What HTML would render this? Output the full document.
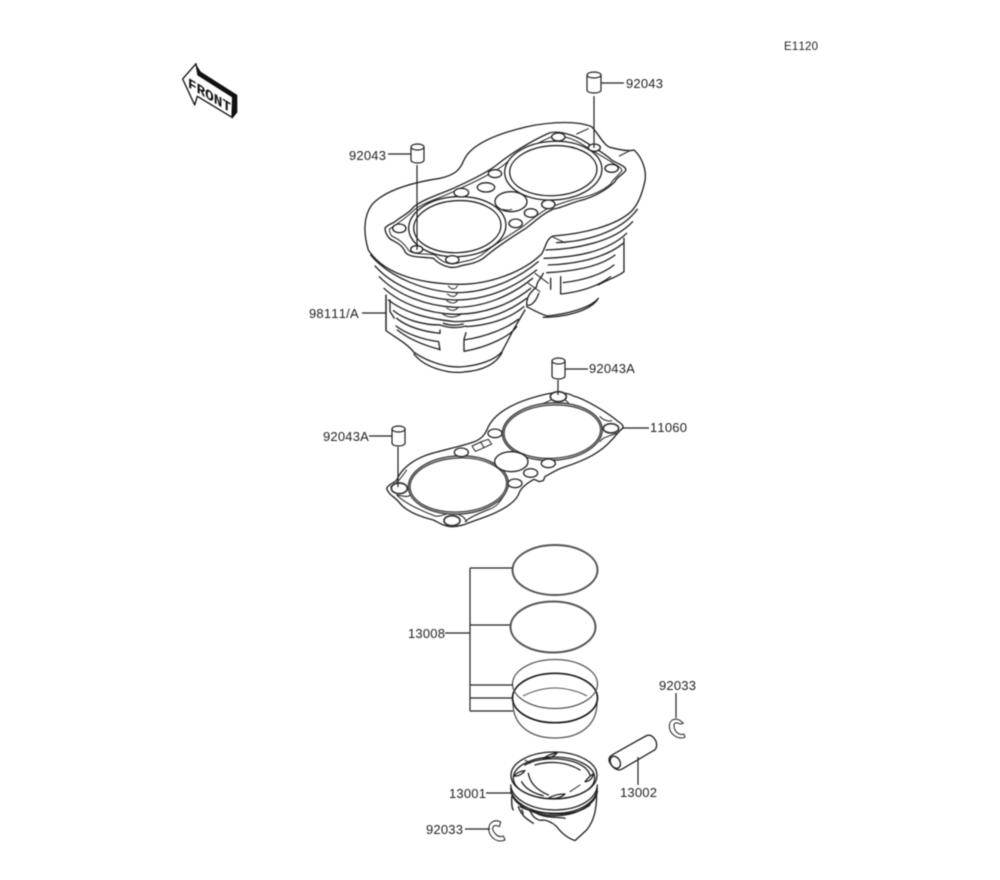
<!DOCTYPE html>
<html><head><meta charset="utf-8"><style>
html,body{margin:0;padding:0;background:#fff}
svg{display:block;filter:blur(.45px)}
text{font-family:"Liberation Sans",sans-serif;font-size:13px;fill:#222;letter-spacing:.2px;font-kerning:none}
.l{stroke:#222;stroke-width:1.2;fill:none}
.z{fill:none;stroke:#222;stroke-width:4;stroke-linecap:round;stroke-linejoin:round}
.t{stroke-width:3}
.f{fill:#fff}
</style></head><body>
<svg width="1000" height="880" viewBox="0 0 1000 880" xmlns="http://www.w3.org/2000/svg">
<rect width="1000" height="880" fill="#fff"/>
<text x="784" y="50" style="font-size:11.5px">E1120</text>

<!-- FRONT arrow -->
<g transform="translate(170,55) scale(.3333)">
<path d="M76,24 L92,50 L202,120 L202,172 L186,192 L186,135 L80,62Z" fill="#111"/>
<path d="M38,72 L78,26 L84,60 L188,126 L186,187 L82,124 L74,150Z" fill="#fff" stroke="#111" stroke-width="4" stroke-linejoin="round"/>
<text transform="matrix(1,.6,0,1,54,96)" style="font-family:'Liberation Mono',monospace;font-weight:bold;font-size:43px;fill:#111;letter-spacing:0">FRONT</text>
</g>

<!-- Cylinder -->
<g transform="translate(340,110) scale(.3333)">
<path class="z" d="M852,385 L852,485 C835,500 800,510 775,525 M775,565 C750,595 680,612 622,618 C600,612 580,600 560,590"/>
<path class="z" d="M610,622 C670,622 745,605 772,570"/>
<path class="z" d="M650,398 C730,395 840,370 892,298"/>
<path class="z" d="M618,420 C700,418 820,398 878,335"/>
<path class="z" d="M612,445 C700,442 800,428 860,370"/>
<path class="z" d="M625,465 C700,462 790,448 850,400"/>
<path class="z" d="M620,488 C700,484 780,470 825,435"/>
<path class="z" d="M670,518 C720,512 780,498 822,465"/>
<path class="z" d="M665,552 C715,546 770,532 812,500"/>
<path class="z" d="M662,500 L662,552 M632,505 L632,538 M610,490 C600,510 590,515 590,530 C575,545 560,555 560,585 C575,590 590,570 596,550"/>
<path class="z t" d="M585,490 L625,520 M565,520 L600,545"/>
<path class="z" d="M600,432 C560,440 510,458 470,500"/>
<path class="z t" d="M490,470 L515,462 M640,382 L675,398"/>
<path class="z f" d="M85,420 C70,370 70,320 95,285 C130,245 200,220 300,205 C345,195 360,180 372,150 C390,110 450,80 530,58 C600,38 700,28 755,50 C775,70 790,105 810,112 C840,120 865,125 882,120 C905,140 925,185 912,225 C905,255 895,280 878,300 C830,350 720,372 640,378 C620,385 620,405 605,432 C550,485 450,525 350,523 C230,520 130,490 85,420Z"/>
<path class="z t" d="M710,72 L745,56 M838,138 L870,122"/>
<path class="z" d="M92,435 C150,505 260,545 350,548 C440,548 530,510 595,455"/>
<path class="z" d="M105,468 C160,530 260,568 345,570 C440,570 520,535 590,480"/>
<path class="z" d="M118,500 C170,555 260,588 345,592 C430,592 510,560 578,505"/>
<path class="z" d="M132,535 C180,580 260,610 345,613 C430,613 510,585 572,535"/>
<path class="z" d="M145,570 C190,605 250,625 345,635 C430,635 500,610 560,565"/>
<path class="z" d="M160,602 C195,630 250,645 300,645 M380,650 C450,645 510,625 552,590"/>
<path class="z" d="M300,645 C330,655 350,655 378,648 M310,640 C330,647 350,647 370,642"/>
<path class="z" d="M168,648 C200,672 250,690 296,695 L300,720 M172,660 C210,690 260,708 298,718"/>
<path class="z" d="M170,625 C200,650 250,665 300,670 L300,660 M372,690 L372,724 M372,690 C440,680 500,655 535,628 M372,724 C440,712 510,680 530,650 M378,668 L372,688"/>
<path class="z" d="M138,555 L138,662 C170,685 200,700 222,727 C270,760 330,775 372,770 C420,765 465,750 486,725 L520,660 L555,600"/>
<path class="z" d="M222,732 C255,775 330,792 372,786 C420,782 465,768 486,728"/>
<path class="z" d="M150,570 L150,605 C155,612 160,620 163,625"/>
<path class="z t" d="M325,528 C335,540 345,540 352,528 M322,552 C335,562 345,562 352,550 M320,572 C335,582 345,582 353,571 M320,594 C335,604 345,604 355,592 M308,612 C325,624 345,624 365,612"/>
<path class="z f" d="M135,355 C140,345 155,342 165,335 C185,318 205,312 222,290 C250,268 300,252 340,235 C395,210 445,185 470,165 C510,132 570,95 625,70 C650,60 700,72 740,98 C770,118 800,135 815,150 C830,160 858,168 858,180 C850,195 830,200 825,215 C800,240 760,262 720,272 C690,280 660,295 640,297 C600,315 575,345 550,360 C510,385 465,415 430,445 C400,465 375,462 355,470 C330,478 300,465 280,445 C255,440 205,445 195,425 C185,400 160,395 148,385 C140,375 135,365 135,355Z"/>
<path class="z t" d="M148,358 C165,345 195,328 225,298 C255,275 310,262 350,240 C400,218 455,190 485,170 C520,140 575,108 630,82 C660,72 700,85 735,108 C765,128 800,145 820,160 C835,168 846,175 846,182 C838,195 820,205 812,222 C785,245 750,258 715,265 C680,272 655,285 632,290 C595,310 568,335 545,352 C505,378 455,408 425,435 C395,455 370,452 352,460 C325,466 305,455 285,435 C260,430 215,435 205,420 C190,395 170,385 155,378 C150,370 148,365 148,358Z"/>
<ellipse class="z f" cx="352" cy="350" rx="146" ry="90" transform="rotate(-3 352 350)"/>
<ellipse class="z" cx="352" cy="350" rx="131" ry="78" transform="rotate(-3 352 350)"/>
<ellipse class="z f" cx="640" cy="182" rx="146" ry="88" transform="rotate(-3 640 182)"/>
<ellipse class="z" cx="640" cy="182" rx="131" ry="75" transform="rotate(-3 640 182)"/>
<g class="z f">
<ellipse cx="178" cy="355" rx="20" ry="13"/><ellipse cx="230" cy="418" rx="18" ry="11"/><ellipse cx="337" cy="449" rx="20" ry="12"/>
<ellipse cx="527" cy="340" rx="20" ry="13"/><ellipse cx="573" cy="309" rx="20" ry="13"/><ellipse cx="625" cy="283" rx="20" ry="13"/>
<ellipse cx="513" cy="275" rx="48" ry="30"/><ellipse cx="465" cy="191" rx="20" ry="12"/><ellipse cx="438" cy="232" rx="26" ry="14"/>
<ellipse cx="364" cy="248" rx="22" ry="13"/><ellipse cx="655" cy="81" rx="20" ry="12"/><ellipse cx="763" cy="113" rx="18" ry="11"/><ellipse cx="815" cy="175" rx="20" ry="12"/>
</g>
<path class="z t" d="M490,298 C500,302 510,300 515,298"/>
</g>

<!-- Head gasket -->
<g transform="translate(370,380) scale(.3333)">
<path class="z f" d="M50,325 C55,312 72,310 80,300 C95,265 130,240 170,225 C210,212 270,200 305,188 C335,178 345,165 355,140 C375,100 430,65 530,42 C560,35 595,38 610,48 C640,55 710,95 745,125 C755,130 762,138 758,145 C745,155 735,170 725,180 C695,215 650,240 580,262 C560,268 535,285 525,290 L520,302 L508,305 L492,298 C470,310 450,325 445,345 C430,375 380,400 320,420 C295,428 275,440 245,440 C225,440 210,430 190,420 C150,410 110,395 90,370 C75,350 55,345 50,325Z"/>
<path class="z t" d="M62,320 C75,315 90,300 110,270 M120,345 C115,355 85,345 80,345 C100,365 135,385 195,408 C210,412 225,400 245,400 C265,402 280,405 290,425 M285,425 C300,410 340,395 365,385 C385,378 405,345 415,320 M600,75 C590,60 580,55 565,55 C545,55 535,65 520,70 M690,110 C700,120 712,125 725,122 M690,185 C700,170 720,168 740,160"/>
<ellipse class="z f" cx="265" cy="315" rx="150" ry="87" transform="rotate(-3 265 315)" style="stroke:#444;stroke-width:4.5"/>
<ellipse class="z" cx="265" cy="315" rx="145" ry="81" transform="rotate(-3 265 315)" style="stroke:#444"/>
<ellipse class="z f" cx="547" cy="155" rx="150" ry="86" transform="rotate(-3 547 155)" style="stroke:#444;stroke-width:4.5"/>
<ellipse class="z" cx="547" cy="155" rx="145" ry="80" transform="rotate(-3 547 155)" style="stroke:#444"/>
<g class="z f">
<ellipse cx="88" cy="325" rx="24" ry="16" style="stroke:#333;stroke-width:5"/><ellipse cx="246" cy="422" rx="24" ry="15" style="stroke:#333;stroke-width:5"/>
<ellipse cx="565" cy="50" rx="24" ry="15" style="stroke:#333;stroke-width:5"/><ellipse cx="723" cy="145" rx="23" ry="14" style="stroke:#333;stroke-width:5"/>
<ellipse cx="435" cy="310" rx="21" ry="13"/><ellipse cx="482" cy="279" rx="21" ry="13"/><ellipse cx="535" cy="250" rx="21" ry="13"/>
<ellipse cx="424" cy="245" rx="50" ry="30"/><ellipse cx="274" cy="217" rx="21" ry="13"/><ellipse cx="375" cy="160" rx="21" ry="13"/>
</g>
<path class="z t" d="M306,198 L332,186 L342,203 L316,214Z M332,186 L355,178 L365,192 L342,203"/>
</g>

<!-- Rings -->
<g fill="none">
<ellipse cx="555" cy="570" rx="42.5" ry="25" stroke="#555" stroke-width="2"/>
<ellipse cx="553" cy="627" rx="42.5" ry="25.5" stroke="#555" stroke-width="2"/>
<path d="M513,703 C513,725 530,738 555,738 C580,738 597,725 597,703" stroke="#555" stroke-width="1.3"/>
<path d="M523,696 C533,691 545,688 555,688 C565,688 578,691 587,696" stroke="#555" stroke-width="1.1"/>
<ellipse cx="555" cy="698" rx="42.5" ry="24.7" stroke="#1a1a1a" stroke-width="1.7"/>
<ellipse cx="555" cy="684" rx="42.5" ry="24.5" stroke="#555" stroke-width="1.3"/>
</g>

<!-- Piston -->
<g transform="translate(480,650) scale(.3333)">
<path class="z" d="M95,440 C95,460 95,475 100,480 M115,470 C125,500 145,510 160,520 M350,430 C350,470 345,510 320,540 L285,572 C265,565 245,550 230,530 C215,515 200,510 185,510 M130,490 L125,480 M150,480 C155,500 175,515 190,510 M170,490 C195,505 235,500 255,505"/>
<path class="z" d="M92,405 C95,445 150,480 225,480 C300,480 350,445 352,405"/>
<path class="z" d="M92,415 C95,455 150,490 225,490 C300,490 350,455 352,415"/>
<path class="z" style="stroke-width:4.5" d="M93,425 C100,462 155,497 225,497 C295,497 345,462 352,425"/>
<path class="z" d="M120,470 C170,495 280,505 330,465"/>
<ellipse class="z f" cx="222" cy="376" rx="129" ry="70"/>
<ellipse class="z" cx="222" cy="384" rx="122" ry="63"/>
<path class="z" d="M135,345 C170,325 230,320 280,335 C310,345 325,360 330,375 M125,395 C135,415 160,430 190,437 M165,345 C210,332 260,335 300,360 M145,370 C150,400 170,420 205,435"/>
<path class="z" d="M102,378 C110,368 125,362 135,362 C128,372 115,380 102,378Z M190,325 C205,315 218,310 232,308 C222,320 205,326 190,325Z M315,395 C325,383 335,375 340,372 C338,385 328,395 315,395Z M205,445 C220,435 240,432 255,432 C245,442 225,448 205,445Z"/>
<path class="z t" d="M135,330 L150,340 M270,425 L300,405"/>
<path class="z f" d="M392,318 C400,312 490,262 500,257 C515,250 530,270 530,285 C530,295 525,300 520,302 L425,358 C410,365 395,350 388,335 C386,328 388,322 392,318Z"/>
<ellipse class="z" cx="406" cy="337" rx="14" ry="19" transform="rotate(-30 406 337)"/>
<path class="z t" d="M610,220 C590,198 568,208 568,228 C568,250 590,270 615,262 L612,252 C595,258 582,242 582,226 C582,218 592,216 600,222 Z"/>
<path class="z t" d="M62,516 C42,505 25,520 26,540 C30,562 50,580 75,570 L70,558 C55,566 40,548 38,536 C38,526 48,524 58,530 Z"/>
</g>

<!-- Dowels -->
<g>
<path class="l" fill="#fff" style="fill:#fff" d="M587,75 L587,90 C587,94 601,94 601,90 L601,75Z"/><ellipse class="l" style="fill:#fff" cx="594" cy="75" rx="7" ry="3"/>
<path class="l" style="fill:#fff" d="M411,147 L411,160 C411,164 424,164 424,160 L424,147Z"/><ellipse class="l" style="fill:#fff" cx="417.5" cy="147" rx="6.5" ry="3"/>
<path class="l" style="fill:#fff" d="M552,361 L552,376 C552,380 565,380 565,376 L565,361Z"/><ellipse class="l" style="fill:#fff" cx="558.5" cy="361" rx="6.5" ry="3"/>
<path class="l" style="fill:#fff" d="M392,429 L392,443 C392,447 405,447 405,443 L405,429Z"/><ellipse class="l" style="fill:#fff" cx="398.5" cy="429" rx="6.5" ry="3"/>
</g>

<!-- Leader lines -->
<path class="l" d="M601,83H624 M594,96V148 M388,154H411 M417,165V250 M362,313H386 M386,295V330 M565,369H588 M558,380V395 M622,428H649 M369,436H392 M398,447V487 M445,633H470 M470,568V711 M470,568H512 M470,625H510 M470,685H513 M470,698H513 M470,711H513 M676,693V718 M638,757V785 M486,793H511 M465,829H490"/>

<!-- Labels -->
<text x="626" y="88">92043</text>
<text x="349" y="160">92043</text>
<text x="309" y="318">98111/A</text>
<text x="589" y="373">92043A</text>
<text x="650" y="432">11060</text>
<text x="323" y="441">92043A</text>
<text x="408" y="638">13008</text>
<text x="659" y="690">92033</text>
<text x="620" y="797">13002</text>
<text x="449" y="798">13001</text>
<text x="426" y="834">92033</text>
</svg>
</body></html>
